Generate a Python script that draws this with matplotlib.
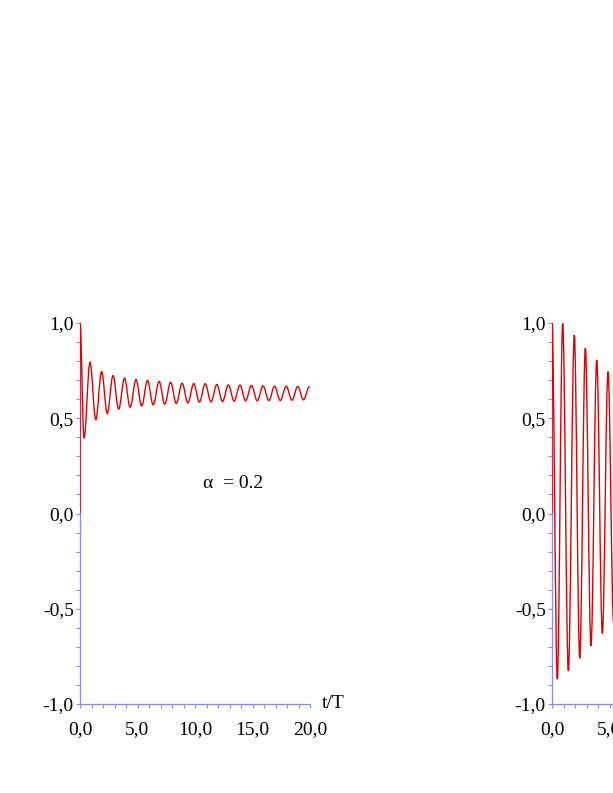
import matplotlib
matplotlib.use('Agg')
import matplotlib.pyplot as plt
from matplotlib.path import Path
from matplotlib.patches import PathPatch
from matplotlib.ticker import MultipleLocator, FuncFormatter

plt.rcParams['font.family'] = ['Liberation Serif', 'DejaVu Serif']

# extrema (t/T, value); first two points are the jump at t=0
left_t = [0.0, 0.0, 0.35, 0.87, 1.37, 1.88, 2.37, 2.87, 3.36, 3.87, 4.36, 4.87, 5.36, 5.87,
          6.36, 6.88, 7.37, 7.88, 8.37, 8.88, 9.38, 9.89, 10.38, 10.89, 11.39, 11.90,
          12.39, 12.90, 13.40, 13.91, 14.40, 14.91, 15.41, 15.92, 16.42, 16.92, 17.42,
          17.93, 18.43, 18.93, 19.43, 19.94, 20.0]
left_y = [0.0, 1.0, 0.396, 0.794, 0.492, 0.745, 0.525, 0.724, 0.548, 0.710, 0.558, 0.703,
          0.565, 0.698, 0.571, 0.693, 0.574, 0.688, 0.578, 0.684, 0.581, 0.682, 0.585,
          0.681, 0.586, 0.677, 0.588, 0.675, 0.590, 0.674, 0.592, 0.672, 0.592, 0.670,
          0.593, 0.668, 0.593, 0.668, 0.595, 0.667, 0.597, 0.665, 0.664]

right_t = [0.0, 0.0, 0.46, 0.93, 1.42, 1.94, 2.41, 2.90, 3.39, 3.89, 4.38, 4.87, 5.36,
           5.85, 6.34]
right_y = [0.0, 1.0, -0.87, 0.998, -0.826, 0.937, -0.76, 0.868, -0.695, 0.806, -0.63,
           0.745, -0.57, 0.69, -0.52]

x_major = 5
y_major = 0.5
label_text = 'α  = 0.2'
axis_label = 't/T'

AXIS_COL = '#8c8cf5'
CURVE_COL = '#e00000'


def smooth_path(ts, ys):
    # straight jump at t=0, then cubic segments with flat tangents at each extremum
    verts = [(ts[0], ys[0]), (ts[1], ys[1])]
    codes = [Path.MOVETO, Path.LINETO]
    for i in range(1, len(ts) - 1):
        t0, y0, t1, y1 = ts[i], ys[i], ts[i + 1], ys[i + 1]
        d = 0.363 * (t1 - t0)
        verts += [(t0 + d, y0), (t1 - d, y1), (t1, y1)]
        codes += [Path.CURVE4] * 3
    return Path(verts, codes)


def comma(v, pos):
    return f'{v:.1f}'.replace('.', ',')


def setup(ax):
    ax.set_xlim(0, 20)
    ax.set_ylim(-1, 1)
    for s in ['top', 'right']:
        ax.spines[s].set_visible(False)
    for s in ['left', 'bottom']:
        ax.spines[s].set_color(AXIS_COL)
        ax.spines[s].set_linewidth(0.9)
    ax.xaxis.set_major_locator(MultipleLocator(x_major))
    ax.xaxis.set_minor_locator(MultipleLocator(1))
    ax.yaxis.set_major_locator(MultipleLocator(y_major))
    ax.yaxis.set_minor_locator(MultipleLocator(0.1))
    ax.xaxis.set_major_formatter(FuncFormatter(comma))
    ax.yaxis.set_major_formatter(FuncFormatter(comma))
    ax.tick_params(which='both', direction='out', length=3, width=0.8,
                   color=AXIS_COL, labelsize=14, labelcolor='black')
    ax.tick_params(axis='x', which='major', pad=9)
    ax.tick_params(axis='y', which='major', pad=1.5)
    ax.set_facecolor('none')


fig = plt.figure(figsize=(6.13, 7.93), dpi=100)

ax1 = fig.add_axes([80 / 613, 89 / 793, 230 / 613, 381 / 793])
setup(ax1)
ax1.add_patch(PathPatch(smooth_path(left_t, left_y), fill=False,
                        edgecolor=CURVE_COL, lw=1.0, zorder=3))
ax1.text(10.7, 0.157, label_text, fontsize=14, va='center', ha='left')
ax1.text(21.0, -1.02, axis_label, fontsize=14, va='baseline', ha='left', clip_on=False)

ax2 = fig.add_axes([552 / 613, 89 / 793, 230 / 613, 381 / 793])
setup(ax2)
ax2.add_patch(PathPatch(smooth_path(right_t, right_y), fill=False,
                        edgecolor=CURVE_COL, lw=1.0, zorder=3))

fig.savefig('out.png', dpi=100)
